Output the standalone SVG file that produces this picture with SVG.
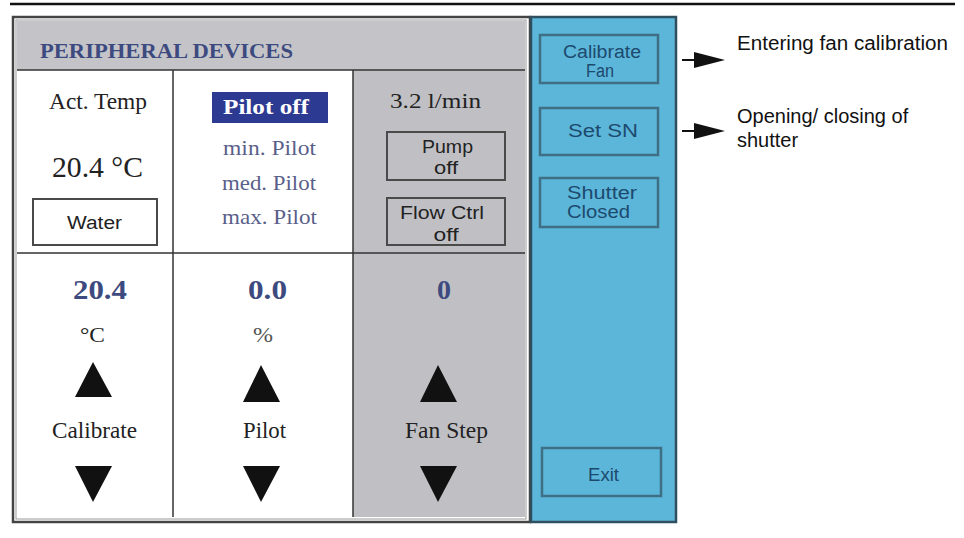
<svg xmlns="http://www.w3.org/2000/svg" width="964" height="538" viewBox="0 0 964 538">
<defs>
<style>
.serif{font-family:"Liberation Serif","Times New Roman",serif;}
.sans{font-family:"Liberation Sans",Arial,sans-serif;}
.btn{fill:none;stroke:#4a4a4a;stroke-width:2;}
.bbtn{fill:#5cb6da;stroke:#3f6f85;stroke-width:2.5;}
.bt{font-family:"Liberation Sans",Arial,sans-serif;font-size:18px;fill:#1c4a6e;}
.gt{font-family:"Liberation Sans",Arial,sans-serif;font-size:18px;fill:#222;}
.tri{fill:#111;}
.grid{stroke:#333;stroke-width:1.5;fill:none;}
</style>
</defs>
<rect width="964" height="538" fill="#fff"/>
<line x1="10" y1="4" x2="955" y2="4" stroke="#111" stroke-width="2.5"/>

<g id="panel">
<rect x="13" y="17" width="517" height="505" fill="#fff" stroke="#444" stroke-width="2.5"/>
<rect x="16" y="20" width="510" height="499" fill="none" stroke="#999" stroke-width="1"/>
<rect x="17" y="21" width="508" height="49" fill="#c4c4c8"/>
<rect x="353" y="70" width="172" height="447" fill="#c0c0c4"/>
<line x1="17" y1="70" x2="525" y2="70" class="grid"/>
<line x1="17" y1="253" x2="525" y2="253" class="grid"/>
<line x1="173" y1="70" x2="173" y2="517" class="grid"/>
<line x1="353" y1="70" x2="353" y2="517" class="grid"/>
<text x="40" y="58" class="serif" font-size="22" font-weight="bold" fill="#3d4a80" textLength="253" lengthAdjust="spacingAndGlyphs">PERIPHERAL DEVICES</text>
</g>

<g id="temp">
<text x="49" y="109" class="serif" font-size="23" fill="#222" textLength="98" lengthAdjust="spacingAndGlyphs">Act. Temp</text>
<text x="52" y="177" class="serif" font-size="30" fill="#222" textLength="91" lengthAdjust="spacingAndGlyphs">20.4 °C</text>
<rect x="33" y="199" width="124" height="46" class="btn"/>
<text x="67" y="229" class="gt" textLength="55" lengthAdjust="spacingAndGlyphs">Water</text>
</g>

<g id="pilot">
<rect x="212" y="92" width="116" height="31" fill="#2c3a92"/>
<text x="223" y="114" class="serif" font-size="21" font-weight="bold" fill="#fff" textLength="86" lengthAdjust="spacingAndGlyphs">Pilot off</text>
<text x="223" y="155" class="serif" font-size="22" fill="#5a5f8a" textLength="93" lengthAdjust="spacingAndGlyphs">min. Pilot</text>
<text x="222" y="190" class="serif" font-size="22" fill="#5a5f8a" textLength="94" lengthAdjust="spacingAndGlyphs">med. Pilot</text>
<text x="222" y="224" class="serif" font-size="22" fill="#5a5f8a" textLength="95" lengthAdjust="spacingAndGlyphs">max. Pilot</text>
</g>

<g id="flow">
<text x="390" y="108" class="serif" font-size="22" fill="#222" textLength="91" lengthAdjust="spacingAndGlyphs">3.2 l/min</text>
<rect x="387" y="132" width="118" height="48" class="btn"/>
<text x="422" y="153" class="gt" font-size="15" textLength="51" lengthAdjust="spacingAndGlyphs">Pump</text>
<text x="446" y="174" class="gt" font-size="15" text-anchor="middle" textLength="24" lengthAdjust="spacingAndGlyphs">off</text>
<rect x="387" y="198" width="118" height="47" class="btn"/>
<text x="400" y="219" class="gt" font-size="16" textLength="84" lengthAdjust="spacingAndGlyphs">Flow Ctrl</text>
<text x="446" y="241" class="gt" font-size="16" text-anchor="middle" textLength="25" lengthAdjust="spacingAndGlyphs">off</text>
</g>

<g id="calibrate">
<text x="73" y="299" class="serif" font-size="28" font-weight="bold" fill="#3d4a80" textLength="54" lengthAdjust="spacingAndGlyphs">20.4</text>
<text x="80" y="342" class="serif" font-size="22" fill="#222" textLength="25" lengthAdjust="spacingAndGlyphs">°C</text>
<polygon class="tri" points="93,362 75,397 112,397"/>
<text x="52" y="438" class="serif" font-size="23" fill="#222" textLength="85" lengthAdjust="spacingAndGlyphs">Calibrate</text>
<polygon class="tri" points="75,466 112,466 93,502"/>
</g>

<g id="pilotval">
<text x="248" y="299" class="serif" font-size="28" font-weight="bold" fill="#3d4a80" textLength="39" lengthAdjust="spacingAndGlyphs">0.0</text>
<text x="253" y="342" class="serif" font-size="22" fill="#555" textLength="20" lengthAdjust="spacingAndGlyphs">%</text>
<polygon class="tri" points="261,365 243,402 280,402"/>
<text x="243" y="438" class="serif" font-size="23" fill="#222" textLength="43" lengthAdjust="spacingAndGlyphs">Pilot</text>
<polygon class="tri" points="243,466 280,466 261,502"/>
</g>

<g id="fanstep">
<text x="444" y="299" class="serif" font-size="28" font-weight="bold" fill="#3d4a80" text-anchor="middle">0</text>
<polygon class="tri" points="438,365 420,402 457,402"/>
<text x="405" y="438" class="serif" font-size="23" fill="#222" textLength="83" lengthAdjust="spacingAndGlyphs">Fan Step</text>
<polygon class="tri" points="420,466 457,466 438,502"/>
</g>

<g id="sidebar">
<rect x="531" y="17" width="145" height="505" fill="#5cb6da" stroke="#2f4f5f" stroke-width="2.5"/>
</g>
<g id="btn-calfan">
<rect x="540" y="35" width="118" height="48" class="bbtn"/>
<text x="563" y="58" class="bt" font-size="16" textLength="78" lengthAdjust="spacingAndGlyphs">Calibrate</text>
<text x="600" y="77" class="bt" font-size="16" text-anchor="middle" textLength="28" lengthAdjust="spacingAndGlyphs">Fan</text>
</g>
<g id="btn-setsn">
<rect x="540" y="108" width="118" height="47" class="bbtn"/>
<text x="568" y="137" class="bt" textLength="70" lengthAdjust="spacingAndGlyphs">Set SN</text>
</g>
<g id="btn-shutter">
<rect x="540" y="178" width="118" height="49" class="bbtn"/>
<text x="567" y="199" class="bt" font-size="16" textLength="70" lengthAdjust="spacingAndGlyphs">Shutter</text>
<text x="567" y="218" class="bt" font-size="16" textLength="63" lengthAdjust="spacingAndGlyphs">Closed</text>
</g>
<g id="btn-exit">
<rect x="542" y="448" width="119" height="48" class="bbtn"/>
<text x="588" y="481" class="bt" textLength="31" lengthAdjust="spacingAndGlyphs">Exit</text>
</g>

<g id="connectors">
<line x1="682" y1="60" x2="698" y2="60" stroke="#111" stroke-width="2"/>
<polygon points="694,52 725,60 694,68" fill="#111"/>
<line x1="682" y1="131" x2="698" y2="131" stroke="#111" stroke-width="2"/>
<polygon points="694,123 725,131 694,139" fill="#111"/>
</g>

<g id="annotations">
<text x="737" y="50" class="sans" font-size="20" fill="#111" textLength="211" lengthAdjust="spacingAndGlyphs">Entering fan calibration</text>
<text x="737" y="123" class="sans" font-size="20" fill="#111">Opening/ closing of</text>
<text x="737" y="147" class="sans" font-size="20" fill="#111">shutter</text>
</g>
</svg>
